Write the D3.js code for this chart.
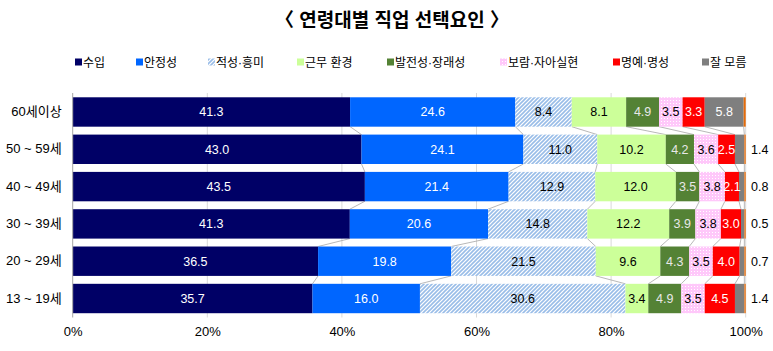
<!DOCTYPE html>
<html><head><meta charset="utf-8">
<script src="https://cdn.jsdelivr.net/npm/d3@7"></script>
<style>body{margin:0;background:#fff}svg{display:block}</style>
</head><body>
<svg id="c" width="773" height="351"></svg>
<script>
// ---- data ----
const title = "〈 연령대별 직업 선택요인 〉";
const categories = ["60세이상", "50 ~ 59세", "40 ~ 49세", "30 ~ 39세", "20 ~ 29세", "13 ~ 19세"];
const seriesNames = ["수입", "안정성", "적성·흥미", "근무 환경", "발전성·장래성", "보람·자아실현", "명예·명성", "잘 모름", "기타"];
const income      = [41.3, 43.0, 43.5, 41.3, 36.5, 35.7];
const stability   = [24.6, 24.1, 21.4, 20.6, 19.8, 16.0];
const aptitude    = [8.4, 11.0, 12.9, 14.8, 21.5, 30.6];
const environment = [8.1, 10.2, 12.0, 12.2, 9.6, 3.4];
const prospects   = [4.9, 4.2, 3.5, 3.9, 4.3, 4.9];
const fulfillment = [3.5, 3.6, 3.8, 3.8, 3.5, 3.5];
const honor       = [3.3, 2.5, 2.1, 3.0, 4.0, 4.5];
const unknown     = [5.8, 1.4, 0.8, 0.5, 0.7, 1.4];
const other       = [0.3, 0.2, 0.2, 0.2, 0.2, 0.2];
const xTicks = [0, 20, 40, 60, 80, 100];
const xTickLabels = ["0%", "20%", "40%", "60%", "80%", "100%"];

// ---- style / layout ----
const fills = ["#000066", "#0066FF", "url(#hatch)", "#CCFF99", "#548235", "url(#dots)", "#FF0000", "#7F7F7F", "#E46C0A"];
const labelColors = ["#fff", "#fff", "#000", "#000", "#e8e8e8", "#000", "#fff", "#fff", "#000"];
const legendMarkerX = [75, 136, 208, 297, 387, 500, 613, 702];
const FONT = "'Liberation Sans', 'Noto Sans CJK KR', sans-serif";

const allSeries = [income, stability, aptitude, environment, prospects, fulfillment, honor, unknown, other];
const rows = categories.map((c, i) => {
  const o = {cat: c};
  seriesNames.forEach((s, k) => o[s] = allSeries[k][i]);
  return o;
});

const svg = d3.select("#c");
const defs = svg.append("defs");
const hp = defs.append("pattern").attr("id", "hatch").attr("patternUnits", "userSpaceOnUse")
  .attr("width", 4).attr("height", 4);
hp.append("rect").attr("width", 4).attr("height", 4).attr("fill", "#fff");
hp.append("path").attr("d", "M-1,1 l2,-2 M0,4 l4,-4 M3,5 l2,-2")
  .attr("stroke", "#99BDE8").attr("stroke-width", 1.6);
const dp = defs.append("pattern").attr("id", "dots").attr("patternUnits", "userSpaceOnUse")
  .attr("width", 3).attr("height", 3);
dp.append("rect").attr("width", 3).attr("height", 3).attr("fill", "#FFC8FA");
dp.append("rect").attr("x", 1).attr("y", 1).attr("width", 1).attr("height", 1).attr("fill", "#fff");

const x = d3.scaleLinear().domain([0, 1]).range([72.7, 745.7]);
const y = d3.scaleBand().domain(categories).range([93, 317.5]).paddingInner(0.212).paddingOuter(0.115);

const stack = d3.stack().keys(seriesNames).offset(d3.stackOffsetExpand);
const stacked = stack(rows);

// title
svg.append("text").attr("x", 392).attr("y", 27).attr("text-anchor", "middle")
  .attr("font-family", FONT).attr("font-weight", "bold").attr("font-size", 19)
  .attr("fill", "#000").text(title);

// legend
const lg = svg.append("g");
seriesNames.slice(0, 8).forEach((s, k) => {
  const gx = legendMarkerX[k];
  lg.append("rect").attr("x", gx).attr("y", 58.5).attr("width", 7).attr("height", 7).attr("fill", fills[k]);
  lg.append("text").attr("x", gx + 8).attr("y", 66.5).attr("font-family", FONT)
    .attr("font-size", 12).attr("fill", "#000").text(s);
});

// gridlines
svg.append("g").selectAll("line").data(xTicks.slice(1)).join("line")
  .attr("x1", d => x(d / 100)).attr("x2", d => x(d / 100))
  .attr("y1", 93).attr("y2", 317.5).attr("stroke", "#D9D9D9").attr("stroke-width", 1);

// series lines
const sl = svg.append("g");
stacked.slice(0, stacked.length - 1).forEach(layer => {
  for (let i = 0; i < categories.length - 1; i++) {
    const a = layer[i], b = layer[i + 1];
    sl.append("line")
      .attr("x1", x(a[1])).attr("y1", y(categories[i]) + y.bandwidth())
      .attr("x2", x(b[1])).attr("y2", y(categories[i + 1]))
      .attr("stroke", "#A6A6A6").attr("stroke-width", 0.8);
  }
});

// bars
const bg = svg.append("g");
stacked.forEach((layer, k) => {
  bg.append("g").selectAll("rect").data(layer).join("rect")
    .attr("x", d => x(d[0])).attr("width", d => x(d[1]) - x(d[0]))
    .attr("y", d => y(d.data.cat)).attr("height", y.bandwidth())
    .attr("fill", fills[k]);
});

// labels
const lab = svg.append("g").attr("font-family", FONT).attr("font-size", 12.5);
stacked.forEach((layer, k) => {
  if (k === 8) return;
  layer.forEach((d, i) => {
    const v = allSeries[k][i];
    const cy = y(d.data.cat) + y.bandwidth() / 2 + 4.5;
    if (k === 7 && v < 3) {
      lab.append("text").attr("x", 751).attr("y", cy).attr("fill", "#000").text(v.toFixed(1));
    } else {
      lab.append("text").attr("x", (x(d[0]) + x(d[1])) / 2).attr("y", cy)
        .attr("text-anchor", "middle").attr("fill", labelColors[k]).text(v.toFixed(1));
    }
  });
});

// y axis
const ya = svg.append("g").attr("transform", "translate(72.7,0)")
  .call(d3.axisLeft(y).tickSize(0).tickPadding(11));
ya.select(".domain").attr("stroke", "#A6A6A6").attr("d", "M0,93V317.5");
ya.selectAll("text").attr("font-family", FONT).attr("font-size", 13).attr("fill", "#000");

// x axis
const xa = svg.append("g").attr("transform", "translate(0,317.5)")
  .call(d3.axisBottom(x).tickValues(xTicks.map(t => t / 100)).tickSize(0).tickPadding(9)
    .tickFormat((d, i) => xTickLabels[i]));
xa.select(".domain").remove();
xa.selectAll("text").attr("font-family", FONT).attr("font-size", 13).attr("fill", "#000");
</script>
</body></html>
